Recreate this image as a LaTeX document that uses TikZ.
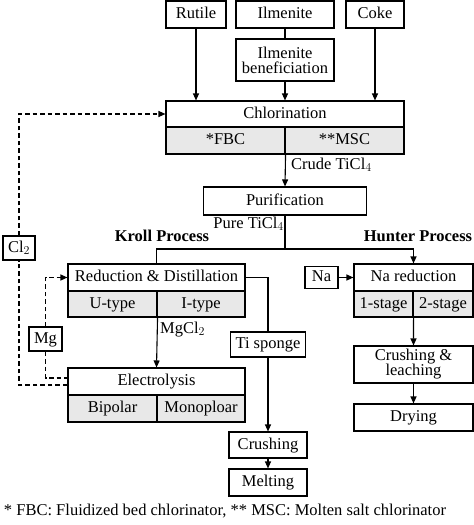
\documentclass[tikz,border=0pt]{standalone}
\usepackage{fontspec}
\setmainfont{Liberation Serif}
\usetikzlibrary{arrows.meta,calc}
\begin{document}
\begin{tikzpicture}[x=1pt,y=-1pt,
  font=\fontsize{16.5}{18}\selectfont,
  box/.style={draw, line width=1.1pt, inner sep=0pt, text height=11.5pt, text depth=3.5pt},
  box2/.style={draw, line width=1.1pt, inner sep=0pt, align=center},
  cell/.style={box, fill=black!9},
  lbl/.style={inner sep=0pt, text height=11.5pt, text depth=3.5pt},
  conn/.style={line width=1.1pt},
  arr/.style={conn, -{Triangle[length=7pt,width=6pt]}},
  dsh/.style={line width=1.1pt, dash pattern=on 4.5pt off 3pt}]
\useasboundingbox (0,0) rectangle (474,525);
% top
\node[box, minimum width=60, minimum height=27] (rutile) at (196,14.5) {Rutile};
\node[box, minimum width=98, minimum height=27] (ilm) at (285,14.5) {Ilmenite};
\node[box, minimum width=58, minimum height=27] (coke) at (375,14.5) {Coke};
\node[box2, minimum width=98, minimum height=42] (ilmb) at (285,60) {Ilmenite\\[-3pt]beneficiation};
% chlorination
\node[box, minimum width=238, minimum height=26] (chlor) at (285,114) {Chlorination};
\node[cell, minimum width=119, minimum height=27] (fbc) at (225.5,140.5) {*FBC};
\node[cell, minimum width=119, minimum height=27] (msc) at (344.5,140.5) {**MSC};
\node[lbl, anchor=west] (crude) at (291,165) {Crude TiCl$_4$};
% purification
\node[box, minimum width=163, minimum height=28] (purif) at (285,201) {Purification};
\node[lbl, anchor=east] (pure) at (284,224) {Pure TiCl$_4$};
\node[lbl, font=\fontsize{16.5}{18}\selectfont\bfseries] (kroll) at (162,237) {Kroll Process};
\node[lbl, font=\fontsize{16.5}{18}\selectfont\bfseries] (hunter) at (418,237) {Hunter Process};
\coordinate (j) at (285,249);
% Kroll
\node[box, minimum width=177, minimum height=27] (red) at (156.5,277.5) {Reduction \& Distillation};
\node[cell, minimum width=89, minimum height=26] (ut) at (112.5,304) {U-type};
\node[cell, minimum width=88, minimum height=26] (it) at (201,304) {I-type};
\node[lbl, anchor=west] (mgcl) at (160,329) {MgCl$_2$};
\node[box, minimum width=177, minimum height=27] (elec) at (156.5,381.5) {Electrolysis};
\node[cell, minimum width=89, minimum height=27] (bip) at (112.5,408.5) {Bipolar};
\node[cell, minimum width=88, minimum height=27] (mon) at (201,408.5) {Monoploar};
\node[box, minimum width=75, minimum height=25] (tis) at (268,344.5) {Ti sponge};
\node[box, minimum width=78, minimum height=26] (crush) at (268,445) {Crushing};
\node[box, minimum width=78, minimum height=27] (melt) at (268,482.5) {Melting};
% Hunter
\node[box, minimum width=33, minimum height=22] (na) at (321.5,277.5) {Na};
\node[box, minimum width=119, minimum height=27] (nared) at (413.5,277.5) {Na reduction};
\node[cell, minimum width=59, minimum height=26] (s1) at (383.5,304) {1-stage};
\node[cell, minimum width=60, minimum height=26] (s2) at (443,304) {2-stage};
\node[box2, minimum width=119, minimum height=37] (crl) at (413.5,364.5) {Crushing \&\\[-3pt]leaching};
\node[box, minimum width=119, minimum height=27] (dry) at (413.5,417.5) {Drying};
% recycle
\node[box, minimum width=32, minimum height=24] (cl2) at (19,248) {Cl$_2$};
\node[box, minimum width=33, minimum height=24] (mg) at (45.5,339) {Mg};
% footnote
\node[lbl] (foot) at (225,511) {* FBC: Fluidized bed chlorinator, ** MSC: Molten salt chlorinator};
% connectors
\draw[arr] (rutile.south) -- (rutile.south |- chlor.north);
\draw[conn] (ilm.south) -- (ilmb.north);
\draw[arr] (ilmb.south) -- (chlor.north);
\draw[arr] (coke.south) -- (coke.south |- chlor.north);
\draw[arr] (fbc.south east) -- (purif.north);
\draw[conn] (purif.south) -- (j);
\draw[conn] (red.north) |- (j);
\draw[arr] (j) -| (nared.north);
\draw[arr] (ut.south east) -- (elec.north);
\draw[conn] (red.east) -| (tis.north);
\draw[arr] (tis.south) -- (crush.north);
\draw[arr] (crush.south) -- (melt.north);
\draw[arr] (na.east) -- (nared.west);
\draw[arr] (s1.south east) -- (crl.north);
\draw[arr] (crl.south) -- (dry.north);
\draw[dsh, -{Triangle[length=7pt,width=6pt]}] (mg.north) |- (red.west);
\draw[dsh] (mg.south) |- ([yshift=3.5pt]elec.west);
\draw[dsh] ([yshift=-3.5pt]elec.west) -| (cl2.south);
\draw[dsh, -{Triangle[length=7pt,width=6pt]}] (cl2.north) |- (chlor.west);
\end{tikzpicture}
\end{document}
